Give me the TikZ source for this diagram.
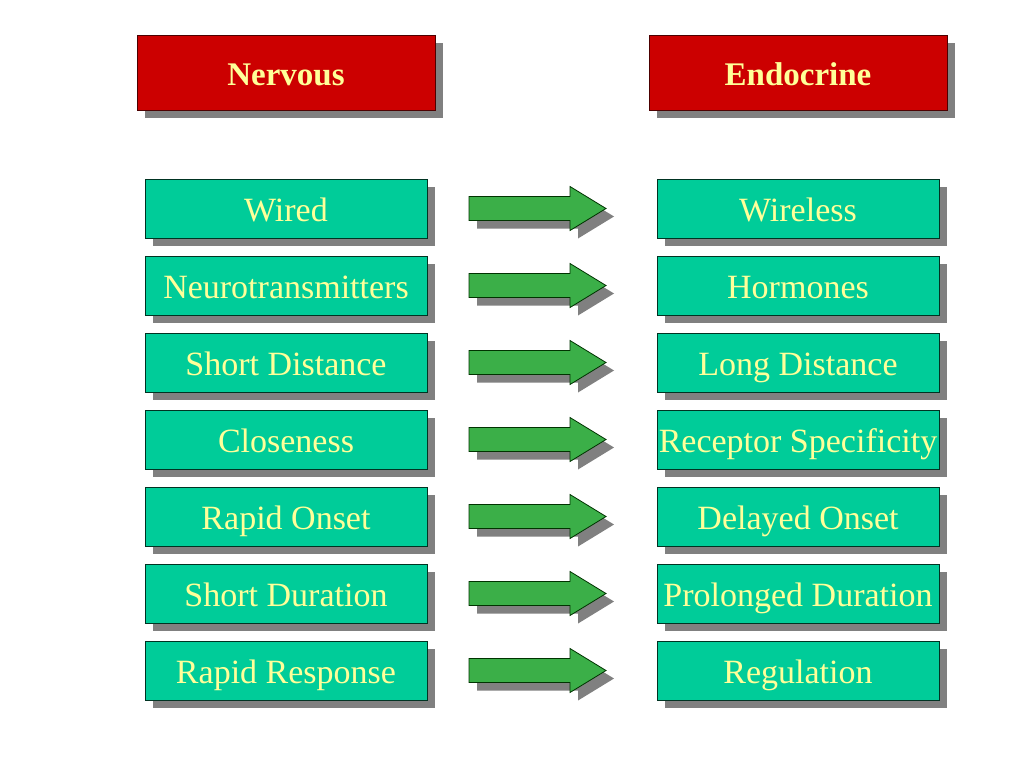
\documentclass[tikz,border=0pt]{standalone}
\usepackage{fontspec}
\setmainfont{Liberation Serif}
\usetikzlibrary{backgrounds}
\definecolor{hdrred}{HTML}{CC0000}
\definecolor{boxgreen}{HTML}{00CC99}
\definecolor{arrowgreen}{HTML}{3BAF48}
\definecolor{txtyellow}{HTML}{FFFF99}
\definecolor{shadowgray}{HTML}{808080}
\definecolor{edgedark}{HTML}{003322}
\tikzset{
  hdrbox/.style={draw=black!70!red, line width=0.8pt, fill=hdrred, text=txtyellow,
    minimum width=298pt, minimum height=75pt, inner sep=0pt,
    text height=25pt, text depth=0pt,
    font=\fontsize{33}{36}\selectfont\bfseries},
  itembox/.style={draw=edgedark, line width=0.8pt, fill=boxgreen, text=txtyellow,
    minimum width=282pt, minimum height=59pt, inner sep=0pt,
    text height=25pt, text depth=0pt,
    font=\fontsize{34}{36}\selectfont},
  blockarrow/.style={fill=arrowgreen, draw=black!80!green, line width=0.8pt},
  shade8/.style={fill=shadowgray, draw=none}
}
\begin{document}
\begin{tikzpicture}[x=1pt,y=-1pt]
\useasboundingbox (0,0) rectangle (1024,768);
\node[hdrbox] (hn) at (286,72.5) {Nervous};
\node[hdrbox] (he) at (798,72.5) {Endocrine};
\foreach \i/\lt/\rt in {1/Wired/Wireless,2/Neurotransmitters/Hormones,3/Short Distance/Long Distance,4/Closeness/Receptor Specificity,5/Rapid Onset/Delayed Onset,6/Short Duration/Prolonged Duration,7/Rapid Response/Regulation}{
  \pgfmathsetmacro{\yc}{208.5+77*(\i-1)}
  \node[itembox] (l\i) at (286,\yc) {\lt};
  \node[itembox] (r\i) at (798,\yc) {\rt};
  \coordinate (a\i) at (469,\yc);
  % arrow shadow
  \fill[shade8] ([shift={(8,8)}]a\i) ++(0,-12) -- ++(101,0) -- ++(0,-10) -- ++(36,22) -- ++(-36,22) -- ++(0,-10) -- ++(-101,0) -- cycle;
  \filldraw[blockarrow] (a\i) ++(0,-12) -- ++(101,0) -- ++(0,-10) -- ++(36,22) -- ++(-36,22) -- ++(0,-10) -- ++(-101,0) -- cycle;
}
\begin{scope}[on background layer]
  \fill[white] (0,0) rectangle (1024,768);
  \foreach \n in {hn,he,l1,l2,l3,l4,l5,l6,l7,r1,r2,r3,r4,r5,r6,r7}{
    \fill[shade8] ([shift={(8,8)}]\n.north west) rectangle ([shift={(8,8)}]\n.south east);
  }
\end{scope}
\end{tikzpicture}
\end{document}
